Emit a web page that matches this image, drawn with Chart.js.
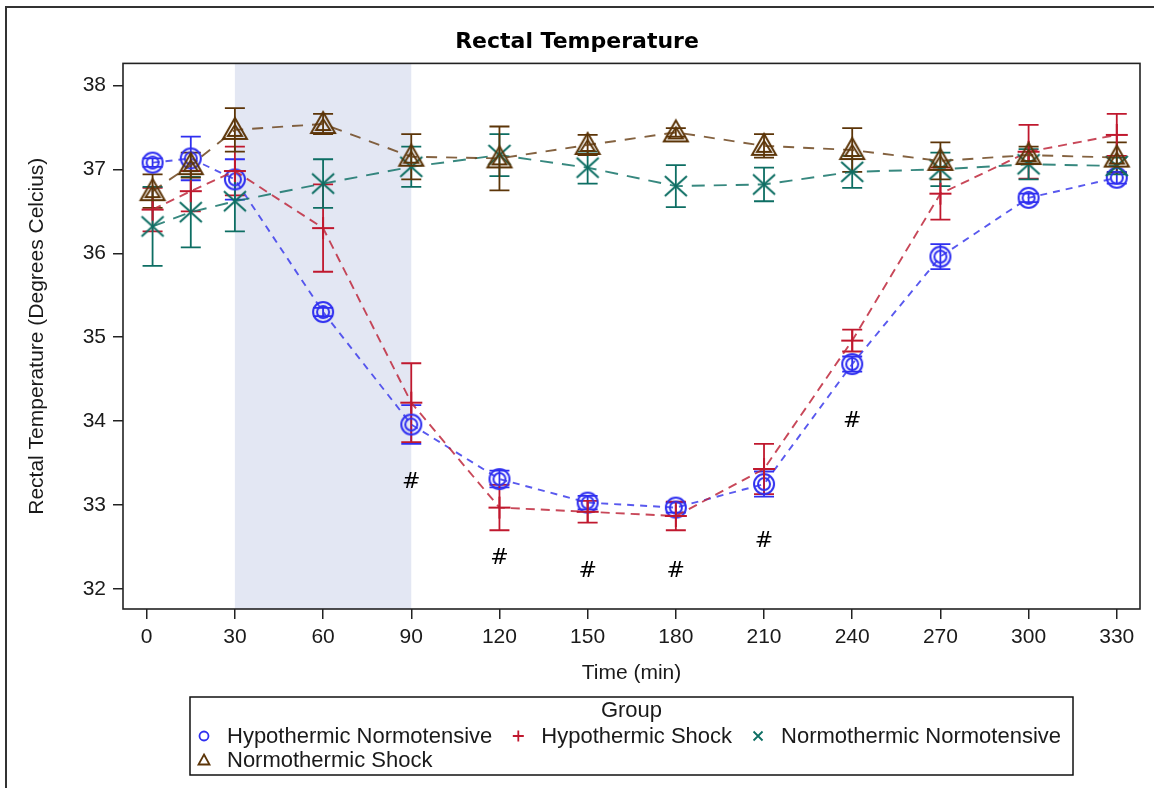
<!DOCTYPE html>
<html>
<head>
<meta charset="utf-8">
<title>Rectal Temperature</title>
<script src="https://cdn.jsdelivr.net/npm/chart.js@4.4.1/dist/chart.umd.min.js"></script>
<style>
  html, body { margin: 0; padding: 0; background: #fff; }
  canvas { display: block; }
</style>
</head>
<body>
<canvas id="chart" width="1154" height="788"></canvas>
<script>
// time points (min)
const times = [2, 15, 30, 60, 90, 120, 150, 180, 210, 240, 270, 300, 330];
const groups = ['Hypothermic Normotensive', 'Hypothermic Shock', 'Normothermic Normotensive', 'Normothermic Shock'];

// group means and error (+/-) per time point
const hypoNormoMean = [37.08, 37.13, 36.88, 35.30, 33.96, 33.31, 33.03, 32.97, 33.25, 34.68, 35.96, 36.66, 36.90];
const hypoNormoErr  = [0.05, 0.26, 0.24, 0.05, 0.23, 0.10, 0.08, 0.06, 0.15, 0.09, 0.15, 0.05, 0.07];
const hypoShockMean = [36.52, 36.74, 36.98, 36.30, 34.22, 32.97, 32.92, 32.87, 33.43, 34.96, 36.71, 37.21, 37.41];
const hypoShockErr  = [0.26, 0.24, 0.29, 0.52, 0.47, 0.27, 0.13, 0.17, 0.30, 0.13, 0.31, 0.32, 0.25];
const normoNormoMean = [36.32, 36.49, 36.62, 36.83, 37.03, 37.17, 37.02, 36.80, 36.82, 36.97, 37.00, 37.06, 37.04];
const normoNormoErr  = [0.47, 0.42, 0.36, 0.29, 0.24, 0.25, 0.19, 0.25, 0.20, 0.19, 0.20, 0.18, 0.10];
const normoShockMean = [36.74, 37.05, 37.47, 37.54, 37.15, 37.13, 37.29, 37.44, 37.28, 37.23, 37.10, 37.17, 37.14];
const normoShockErr  = [0.20, 0.15, 0.26, 0.12, 0.27, 0.38, 0.12, 0.05, 0.14, 0.26, 0.22, 0.10, 0.18];

// significance marks (#)
const hashTimes  = [90, 120, 150, 180, 210, 240];
const hashValues = [33.27, 32.37, 32.21, 32.21, 32.57, 34.00];

// axes
const xTicks = [0, 30, 60, 90, 120, 150, 180, 210, 240, 270, 300, 330];
const yTicks = [32, 33, 34, 35, 36, 37, 38];
const coolingPeriod = [30, 90];

const FONT = '"Liberation Sans", Arial, sans-serif';
Chart.defaults.font.family = FONT;
Chart.defaults.color = '#1a1a1a';

function makeMarker(kind, color) {
  const c = document.createElement('canvas');
  c.width = 30; c.height = 30;
  const g = c.getContext('2d');
  g.strokeStyle = color;
  g.lineWidth = 2;
  g.translate(15, 15);
  g.beginPath();
  if (kind === 'circle') {
    g.arc(0, 0, 10, 0, Math.PI * 2);
    g.moveTo(6, 0);
    g.arc(0, 0, 6, 0, Math.PI * 2);
  } else if (kind === 'plus') {
    g.moveTo(-11, 0); g.lineTo(11, 0);
    g.moveTo(0, -11); g.lineTo(0, 11);
  } else if (kind === 'x') {
    g.moveTo(-11, -10); g.lineTo(11, 10);
    g.moveTo(-11, 10); g.lineTo(11, -10);
  } else if (kind === 'triangle') {
    g.moveTo(0, -12); g.lineTo(12, 9); g.lineTo(-12, 9); g.closePath();
    g.moveTo(0, -5); g.lineTo(7, 6); g.lineTo(-7, 6); g.closePath();
  }
  g.stroke();
  return c;
}

function series(label, means, errs, kind, color, lineColor, dash, order) {
  return {
    label: label,
    data: times.map((t, i) => ({x: t, y: means[i]})),
    errors: errs,
    kind: kind,
    color: color,
    borderColor: lineColor,
    borderWidth: 1.9,
    borderDash: dash,
    pointStyle: makeMarker(kind, color),
    pointRadius: 10,
    pointHoverRadius: 10,
    fill: false,
    tension: 0,
    order: order
  };
}

const datasets = [
  series(groups[0], hypoNormoMean, hypoNormoErr, 'circle', '#2f2ff0', 'rgba(60,60,235,0.85)', [7, 6], 4),
  series(groups[1], hypoShockMean, hypoShockErr, 'plus', '#c0182e', 'rgba(190,40,60,0.85)', [9, 6], 3),
  series(groups[2], normoNormoMean, normoNormoErr, 'x', '#0d6e63', 'rgba(20,115,105,0.85)', [13, 9], 2),
  series(groups[3], normoShockMean, normoShockErr, 'triangle', '#5c3508', 'rgba(110,70,30,0.85)', [11, 9], 1)
];

const frame = {
  id: 'frame',
  beforeDatasetsDraw(chart) {
    const {ctx, chartArea: a, scales: {x, y}} = chart;
    ctx.save();
    // shaded cooling period
    const x0 = x.getPixelForValue(coolingPeriod[0]);
    const x1 = x.getPixelForValue(coolingPeriod[1]);
    ctx.fillStyle = '#e3e7f3';
    ctx.fillRect(x0, a.top, x1 - x0, a.bottom - a.top);
    // error bars
    ctx.lineWidth = 1.8;
    chart.data.datasets.forEach(ds => {
      ctx.strokeStyle = ds.color;
      ds.data.forEach((p, j) => {
        const px = x.getPixelForValue(p.x);
        const hi = y.getPixelForValue(p.y + ds.errors[j]);
        const lo = y.getPixelForValue(p.y - ds.errors[j]);
        ctx.beginPath();
        ctx.moveTo(px, hi); ctx.lineTo(px, lo);
        ctx.moveTo(px - 10, hi); ctx.lineTo(px + 10, hi);
        ctx.moveTo(px - 10, lo); ctx.lineTo(px + 10, lo);
        ctx.stroke();
      });
    });
    ctx.restore();
  },
  afterDatasetsDraw(chart) {
    const {ctx, scales: {x, y}} = chart;
    ctx.save();
    ctx.fillStyle = '#000';
    ctx.font = '22px "DejaVu Sans", sans-serif';
    ctx.textAlign = 'center';
    ctx.textBaseline = 'middle';
    hashTimes.forEach((t, i) => {
      ctx.fillText('#', x.getPixelForValue(t), y.getPixelForValue(hashValues[i]));
    });
    ctx.restore();
  },
  afterDraw(chart) {
    const {ctx, chartArea: a, width, height} = chart;
    ctx.save();
    // outer frame
    ctx.strokeStyle = '#333';
    ctx.lineWidth = 2;
    ctx.beginPath();
    ctx.moveTo(6, height); ctx.lineTo(6, 7); ctx.lineTo(width, 7);
    ctx.stroke();
    // plot frame
    ctx.lineWidth = 1.6;
    ctx.strokeStyle = '#222';
    ctx.strokeRect(a.left, a.top, a.right - a.left, a.bottom - a.top);

    // legend
    ctx.font = '22px ' + FONT;
    const rows = [[0, 1, 2], [3]];
    const ds = chart.data.datasets;
    const symGap = 23, itemGap = 26, padL = 14, padR = 12;
    const rowWidth = r => r.reduce((s, i, k) => s + symGap + ctx.measureText(ds[i].label).width + (k ? itemGap : 0), 0);
    const w = padL + Math.max(...rows.map(rowWidth)) + padR;
    const left = (a.left + a.right) / 2 - w / 2;
    const top = a.bottom + 88;
    const h = 78;
    ctx.lineWidth = 1.5;
    ctx.strokeStyle = '#111';
    ctx.strokeRect(left, top, w, h);
    ctx.fillStyle = '#1a1a1a';
    ctx.textBaseline = 'middle';
    ctx.textAlign = 'center';
    ctx.fillText('Group', left + w / 2, top + 14);
    ctx.textAlign = 'left';
    rows.forEach((r, ri) => {
      let cx = left + padL;
      const cy = top + 39 + ri * 24;
      r.forEach(i => {
        const d = ds[i];
        ctx.strokeStyle = d.color;
        ctx.lineWidth = 1.8;
        ctx.beginPath();
        if (d.kind === 'circle') {
          ctx.arc(cx, cy, 4.5, 0, Math.PI * 2);
        } else if (d.kind === 'plus') {
          ctx.moveTo(cx - 5.5, cy); ctx.lineTo(cx + 5.5, cy);
          ctx.moveTo(cx, cy - 5.5); ctx.lineTo(cx, cy + 5.5);
        } else if (d.kind === 'x') {
          ctx.moveTo(cx - 4.5, cy - 4.5); ctx.lineTo(cx + 4.5, cy + 4.5);
          ctx.moveTo(cx - 4.5, cy + 4.5); ctx.lineTo(cx + 4.5, cy - 4.5);
        } else {
          ctx.moveTo(cx, cy - 5.5); ctx.lineTo(cx + 5.5, cy + 4.5); ctx.lineTo(cx - 5.5, cy + 4.5); ctx.closePath();
        }
        ctx.stroke();
        ctx.fillText(d.label, cx + symGap, cy + 1);
        cx += symGap + ctx.measureText(d.label).width + itemGap;
      });
    });
    ctx.restore();
  }
};

new Chart(document.getElementById('chart'), {
  type: 'line',
  data: { datasets: datasets },
  plugins: [frame],
  options: {
    responsive: false,
    animation: false,
    events: [],
    layout: { padding: { left: 14, right: 14, top: 0, bottom: 93 } },
    plugins: {
      legend: { display: false },
      tooltip: { enabled: false },
      title: {
        display: true,
        text: 'Rectal Temperature',
        color: '#000',
        font: { family: '"DejaVu Sans", sans-serif', size: 22, weight: 'bold' },
        padding: { top: 29, bottom: 8 }
      }
    },
    scales: {
      x: {
        type: 'linear',
        min: -8.06,
        max: 337.9,
        afterBuildTicks: s => { s.ticks = xTicks.map(v => ({value: v})); },
        afterFit: s => { s.height = 86; },
        border: { display: false },
        grid: { drawOnChartArea: false, drawTicks: true, tickLength: 10, color: '#222', lineWidth: 1.5 },
        ticks: { font: { size: 21 }, padding: 6, autoSkip: false, maxRotation: 0 },
        title: { display: true, text: 'Time (min)', font: { size: 21 }, padding: { top: 4, bottom: 9 } }
      },
      y: {
        min: 31.762,
        max: 38.262,
        afterBuildTicks: s => { s.ticks = yTicks.map(v => ({value: v})); },
        afterFit: s => { s.width = 109; },
        border: { display: false },
        grid: { drawOnChartArea: false, drawTicks: true, tickLength: 10, color: '#222', lineWidth: 1.5 },
        ticks: { font: { size: 21 }, padding: 7 },
        title: { display: true, text: 'Rectal Temperature (Degrees Celcius)', font: { size: 21 }, padding: { top: 11, bottom: 4 } }
      }
    }
  }
});
</script>
</body>
</html>
